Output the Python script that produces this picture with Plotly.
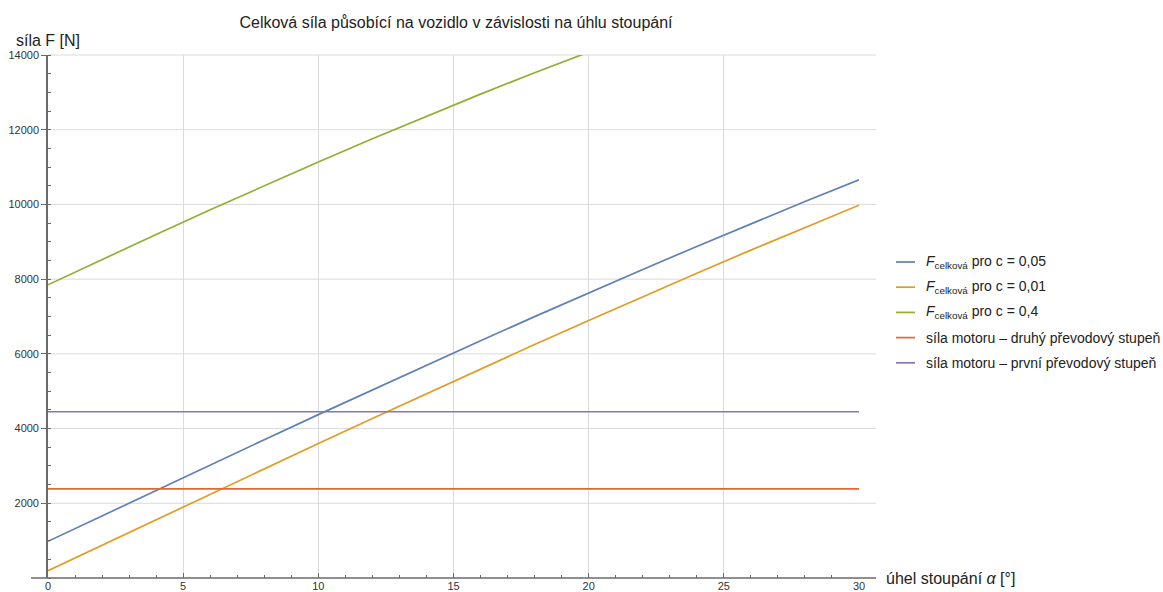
import plotly.graph_objects as go

# Slope angle alpha [deg]
alpha = [0, 2, 4, 6, 8, 10, 12, 14, 16, 18, 20, 22, 24, 26, 28, 30]

# Total force F [N] for rolling-resistance coefficients c
F_c005 = [981, 1665, 2347, 3026, 3702, 4373, 5039, 5698, 6351, 6996,
          7632, 8259, 8876, 9483, 10077, 10660]
F_c001 = [196, 881, 1564, 2246, 2925, 3600, 4271, 4937, 5597, 6250,
          6895, 7532, 8159, 8777, 9384, 9980]
F_c04 = [7848, 8528, 9197, 9856, 10502, 11136, 11756, 12361, 12952, 13527,
         14085, 14626, 15150, 15655, 16140, 16607]

# Engine force in the first and second gear (constant over alpha)
alpha_ends = [0, 30]
F_gear2 = [2385, 2385]
F_gear1 = [4450, 4450]

x_ticks = [0, 5, 10, 15, 20, 25, 30]
y_ticks = [2000, 4000, 6000, 8000, 10000, 12000, 14000]

X_MAX = 30
Y_MAX = 14000

W, H = 1163, 592
ML, MR, MT, MB = 48, 304, 55, 14
plot_w = W - ML - MR
plot_h = H - MT - MB
ext = 17 / plot_w  # axes and grid run a little past the plot range


def px_x(px):
    return (px - ML) / plot_w


def px_y(py):
    return (H - MB - py) / plot_h


FONT = "Liberation Sans, Arial, sans-serif"
AX_COL = "#6a6a6a"
GRID_COL = "#dadada"
TXT = "#222222"

series = [
    (alpha, F_c005, "<i>F</i><sub>celková</sub> pro c = 0,05", "#5E81B5"),
    (alpha, F_c001, "<i>F</i><sub>celková</sub> pro c = 0,01", "#E19C24"),
    (alpha, F_c04, "<i>F</i><sub>celková</sub> pro c = 0,4", "#8FB032"),
    (alpha_ends, F_gear2, "síla motoru – druhý převodový stupeň", "#EB6235"),
    (alpha_ends, F_gear1, "síla motoru – první převodový stupeň", "#8778B3"),
]

fig = go.Figure()
for xs, ys, name, col in series:
    fig.add_trace(go.Scatter(x=xs, y=ys, mode="lines", name=name,
                             line=dict(color=col, width=1.7),
                             showlegend=False))

shapes = []
annotations = []
# horizontal grid lines, from the y axis to past the right end of the x axis
for v in y_ticks:
    shapes.append(dict(type="line", xref="paper", yref="paper",
                       x0=0, x1=1 + ext, y0=v / Y_MAX, y1=v / Y_MAX,
                       line=dict(color=GRID_COL, width=1), layer="below"))
# x axis line, extended on both sides
shapes.append(dict(type="line", xref="paper", yref="paper",
                   x0=-ext, x1=1 + ext, y0=0, y1=0,
                   line=dict(color=AX_COL, width=1.6), layer="above"))

# legend: short line sample followed by the series name
LEG_Y0, LEG_DY = 262, 25.2
for i, (_, _, name, col) in enumerate(series):
    yy = px_y(LEG_Y0 + i * LEG_DY)
    shapes.append(dict(type="line", xref="paper", yref="paper",
                       x0=px_x(896), x1=px_x(915), y0=yy, y1=yy,
                       line=dict(color=col, width=1.7)))
    annotations.append(dict(text=name, xref="paper", yref="paper",
                            x=px_x(924), y=yy, xanchor="left",
                            yanchor="middle", showarrow=False,
                            font=dict(size=14, color=TXT, family=FONT)))

annotations += [
    dict(text="síla F [N]", xref="paper", yref="paper",
         x=px_x(14), y=px_y(40), xanchor="left", yanchor="middle",
         showarrow=False, font=dict(size=16, color=TXT, family=FONT)),
    dict(text="úhel stoupání <i>α</i> [°]", xref="paper", yref="paper",
         x=px_x(884), y=px_y(578), xanchor="left", yanchor="middle",
         showarrow=False, font=dict(size=16, color=TXT, family=FONT)),
]

fig.update_layout(
    width=W, height=H,
    margin=dict(l=ML, r=MR, t=MT, b=MB, pad=0),
    paper_bgcolor="white", plot_bgcolor="white",
    font=dict(family=FONT, color="#333333"),
    title=dict(text="Celková síla působící na vozidlo v závislosti na úhlu stoupání",
               x=px_x(456), xref="paper", xanchor="center",
               y=1 - 22 / H, yref="container", yanchor="middle",
               font=dict(size=16, color=TXT, family=FONT)),
    xaxis=dict(range=[0, X_MAX], tickvals=x_ticks, showgrid=True,
               gridcolor=GRID_COL, gridwidth=1, zeroline=False, showline=False,
               ticks="inside", ticklen=5, tickcolor=AX_COL,
               minor=dict(dtick=1, ticks="inside", ticklen=3, tickcolor=AX_COL,
                          showgrid=False),
               tickfont=dict(size=11, color="#333333"), automargin=False),
    yaxis=dict(range=[0, Y_MAX], tickvals=y_ticks, tickformat="d",
               showgrid=False, zeroline=False, showline=True,
               linecolor=AX_COL, linewidth=1.6,
               ticks="outside", ticklen=5, tickcolor=AX_COL,
               minor=dict(dtick=500, ticks="inside", ticklen=3,
                          tickcolor=AX_COL, showgrid=False),
               tickfont=dict(size=11, color="#333333"), automargin=False),
    shapes=shapes,
    annotations=annotations,
    showlegend=False,
)

fig.write_html("out.html")
